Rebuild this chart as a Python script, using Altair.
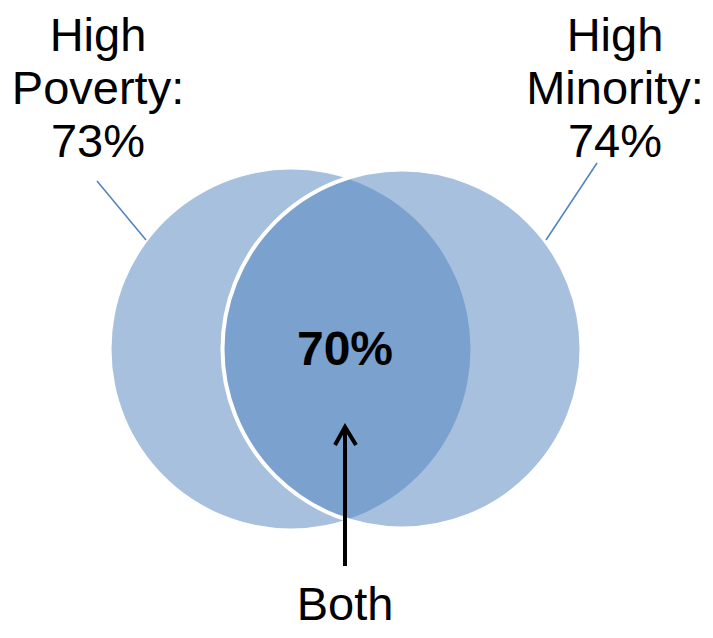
import altair as alt
import pandas as pd

# ---- data ----
set_names = ["High Poverty", "High Minority"]
set_shares = [73, 74]          # percent
both_share = 70                # percent
both_label = "Both"

# ---- layout (pixel space of the 713x638 page) ----
W, H = 697, 622
X0, Y0 = 8, 8
circle_cx = [291, 402]
circle_cy = [349, 349]
circle_r = 179.5
label_cx = [98, 615]
label_baselines = [51, 104, 157]

xs = alt.Scale(domain=[X0, X0 + W], nice=False, zero=False)
ys = alt.Scale(domain=[Y0, Y0 + H], nice=False, zero=False, reverse=True)
X = lambda f: alt.X(f, type="quantitative", scale=xs, axis=None)
Y = lambda f: alt.Y(f, type="quantitative", scale=ys, axis=None)

blue = "#4F81BD"
size = (2 * circle_r) ** 2   # Vega circle: r = sqrt(size) / 2

left = alt.Chart(pd.DataFrame({"x": [circle_cx[0]], "y": [circle_cy[0]]})).mark_point(
    shape="circle", filled=True, size=size, fill=blue, fillOpacity=0.5, strokeWidth=0
).encode(x=X("x"), y=Y("y"))

right = alt.Chart(pd.DataFrame({"x": [circle_cx[1]], "y": [circle_cy[1]]})).mark_point(
    shape="circle", filled=True, size=size, fill=blue, fillOpacity=0.5,
    stroke="white", strokeWidth=4, strokeOpacity=1
).encode(x=X("x"), y=Y("y"))

# labels, one row per line
rows = []
for i, (name, share) in enumerate(zip(set_names, set_shares)):
    first, second = name.split(" ", 1)
    lines = [first, second + ":", f"{share}%"]
    for ln, yb in zip(lines, label_baselines):
        rows.append({"x": label_cx[i], "y": yb, "t": ln})
labels = alt.Chart(pd.DataFrame(rows)).mark_text(
    font="Liberation Sans", fontSize=47, align="center", baseline="alphabetic", color="black"
).encode(x=X("x"), y=Y("y"), text="t:N")

center = alt.Chart(pd.DataFrame({"x": [345], "y": [365], "t": [f"{both_share}%"]})).mark_text(
    font="Liberation Sans", fontSize=48, fontWeight="bold", align="center",
    baseline="alphabetic", color="black"
).encode(x=X("x"), y=Y("y"), text="t:N")

both = alt.Chart(pd.DataFrame({"x": [345], "y": [620], "t": [both_label]})).mark_text(
    font="Liberation Sans", fontSize=47, align="center", baseline="alphabetic", color="black"
).encode(x=X("x"), y=Y("y"), text="t:N")

# leader lines
leaders = alt.Chart(pd.DataFrame({
    "x": [97, 597], "y": [181, 163], "x2": [146, 546], "y2": [240, 240]
})).mark_rule(color=blue, strokeWidth=1.5).encode(
    x=X("x"), y=Y("y"), x2="x2:Q", y2="y2:Q")

# arrow
shaft = alt.Chart(pd.DataFrame({"x": [345], "y": [566], "x2": [345], "y2": [430]})).mark_rule(
    color="black", strokeWidth=4).encode(x=X("x"), y=Y("y"), x2="x2:Q", y2="y2:Q")
head = alt.Chart(pd.DataFrame({"x": [335, 345, 356], "y": [445, 427, 445], "o": [0, 1, 2]})).mark_line(
    color="black", strokeWidth=4, strokeJoin="miter", strokeCap="butt"
).encode(x=X("x"), y=Y("y"), order="o:Q")

chart = alt.layer(left, right, leaders, shaft, head, labels, center, both).properties(
    width=W, height=H, padding=0, autosize=alt.AutoSizeParams(type="none"), background="white"
).configure_view(stroke=None)

chart.save("out.html", embed_options={"renderer": "svg", "actions": False})
